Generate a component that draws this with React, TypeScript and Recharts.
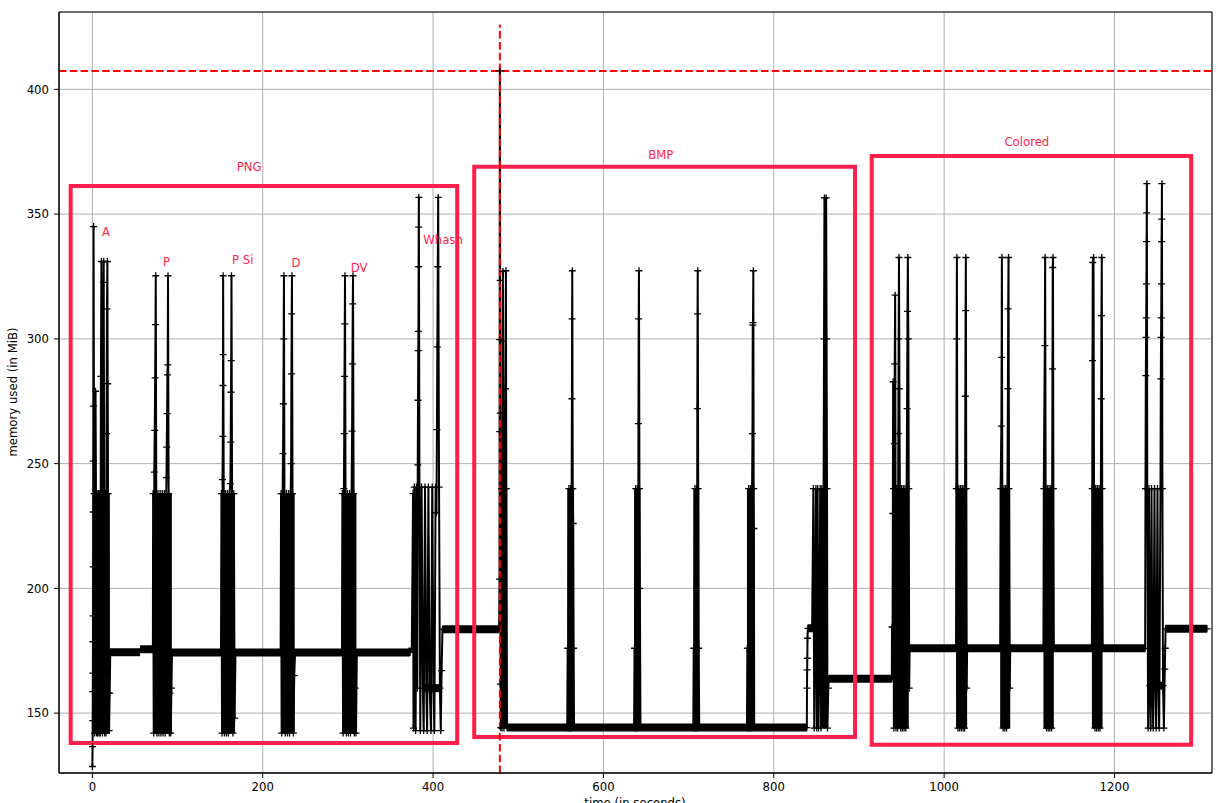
import React from 'react';
import {
  ComposedChart, Line, XAxis, YAxis, CartesianGrid, ReferenceArea, ReferenceLine, Scatter, Customized,
} from 'recharts';

// ---- data (time in s, memory in MiB) ----
const xTicks = [0, 200, 400, 600, 800, 1000, 1200];
const yTicks = [150, 200, 250, 300, 350, 400];
const xDomain = [-39.2, 1314.5];
const yDomain = [126, 431];

const pngTrace: [number, number][] = [
  [0, 128.6], [0.2, 136.6], [0.4, 147], [0.5, 158.6], [0.6, 166], [0.7, 178.6], [0.8, 189], [0.9, 208.6], [1.0, 230.6], [1.1, 251], [1.2, 273], [1.4, 345],
  [2, 238], [2.6, 142], [3.2, 238], [3.7, 279], [4.2, 238], [4.8, 142], [5.5, 238], [6.2, 142], [7, 238], [7.8, 142], [8.6, 238], [9.3, 142], [10, 285], [10.6, 331],
  [11.2, 238], [11.8, 142], [12.5, 238], [13, 322.6], [13.3, 331], [13.8, 238], [14.5, 142], [15.3, 238], [16, 142], [16.6, 262], [17.1, 312], [17.6, 331],
  [18.0, 282], [18.4, 238], [19, 158], [19.6, 143], [20.3, 158], [21, 174.5],
  [71, 175.6], [71.3, 238], [72, 142], [72.7, 246.6], [73.2, 263.3], [73.7, 284.4], [74.1, 305.7], [74.4, 325.3], [75, 238], [75.8, 142], [77, 238], [78, 142],
  [79.5, 238], [80.5, 142], [82, 238], [83, 142], [84.5, 238], [85.5, 142], [86.5, 233.3], [87, 244.4], [87.3, 256.6], [87.7, 270], [88.1, 285.6], [88.4, 289.6],
  [88.8, 325.3], [89.5, 238], [90.3, 142], [91, 158], [92, 142], [92.8, 160], [93.5, 174.3],
  [151, 174.3], [151.5, 238], [152.2, 142], [152.8, 243.6], [153.1, 260.9], [153.3, 281.3], [153.4, 293.7], [153.5, 325.3], [154.2, 238], [155, 142], [156.3, 238],
  [157.3, 142], [158.6, 238], [159.6, 142], [161, 238], [162, 242], [162.4, 258.6], [162.7, 278.6], [163, 291.3], [163.3, 325.3], [164, 238], [165, 142], [166, 238],
  [167, 148], [168, 174.3],
  [221, 174.3], [221.5, 238], [222.3, 142], [223.3, 238], [223.8, 254], [224.2, 274], [224.6, 300], [224.9, 325.3], [225.5, 238], [226.5, 142], [228, 238], [229, 142],
  [230.5, 238], [231.5, 142], [232.8, 238], [233.3, 250], [233.7, 286], [234, 310], [234.3, 325.3], [235, 238], [236, 142], [237, 165], [238, 174.3],
  [293, 174.3], [293.5, 238], [294.3, 142], [295.3, 240], [295.7, 262], [296, 285], [296.3, 306], [296.6, 325.3], [297.2, 238], [298.2, 142], [299.5, 238], [300.5, 142],
  [302, 238], [303, 142], [304.3, 238], [304.9, 263], [305.3, 290], [305.7, 314], [306, 325.3], [306.7, 238], [307.5, 142], [308.5, 160], [309.5, 142], [310.5, 174.3],
  [373, 174.4], [375, 176], [376.5, 238], [377, 144], [378, 240.6], [379.5, 143], [380.5, 240.6], [381.5, 160], [382, 249.5], [382.3, 275.4], [382.6, 295.3],
  [382.8, 303], [383, 328.9], [383.1, 344.8], [383.3, 356.7], [384, 240.6], [385, 143], [386.5, 240.6], [388, 160], [389, 143], [390.5, 240.6], [392, 160], [393, 143],
  [394.5, 240.6], [396, 160], [397.5, 143], [399, 240.6], [400.5, 160], [401.5, 143], [403, 240.6], [404, 230.3], [404.5, 263.6], [405, 296.8], [405.5, 328.9],
  [406, 356.7], [407, 240.6], [408, 160], [409, 143], [410, 167], [411, 183.6],
];

const bmpTrace: [number, number][] = [
  [477.5, 184], [478, 203.7], [478.1, 262.8], [478.2, 299.7], [478.4, 407.4], [478.7, 323.4], [478.9, 270.2], [479.2, 161.6], [479.5, 144.2],
  [480.5, 240], [481, 144], [481.6, 299], [482, 327], [482.5, 240], [483.2, 144], [484.2, 240], [484.8, 280], [485.5, 327.3], [486, 240], [486.8, 144.2],
  [557.5, 144.2], [558, 176], [558.5, 144], [559.5, 240], [560.5, 144], [561.5, 240], [562.2, 144], [562.7, 240], [563, 276], [563.2, 308], [563.4, 327.3],
  [564, 240], [564.5, 226], [565, 176], [565.5, 144.2],
  [636, 144.2], [636.5, 176], [637, 144], [638, 240], [639, 144], [640, 240], [640.7, 144], [641.1, 266], [641.4, 308], [641.7, 327.3], [642.3, 240], [642.8, 200],
  [643.5, 144.2],
  [705.5, 144.2], [706, 176], [706.5, 144], [707.5, 240], [708.5, 144], [709.3, 240], [709.8, 144], [710.2, 272], [710.5, 310], [710.7, 327.3], [711.3, 240],
  [711.8, 176], [712.5, 144.2],
  [768.5, 144.2], [769, 176], [769.5, 144], [770.5, 240], [771.5, 144], [772.5, 240], [773.5, 144], [774.5, 240], [775, 262], [775.3, 305.5], [775.6, 306.5],
  [776, 327.3], [776.4, 240], [776.7, 224], [777, 144.2],
  [838.8, 144.2], [839, 160], [839.2, 167.3], [839.4, 172], [839.6, 180], [840, 184], [845, 184], [846.5, 240], [847.5, 144], [848.5, 184], [849.5, 240],
  [850.5, 144], [851.5, 240], [852.5, 144], [853.5, 170], [854.5, 240], [855.5, 144], [856.5, 240], [857.5, 160], [858.5, 240], [859, 300], [859.5, 356.5],
  [860, 240], [860.5, 165], [861, 240], [861.5, 356.5], [862, 300], [862.5, 240], [863, 144], [864, 160], [864.5, 163.8],
];

const coloredTrace: [number, number][] = [
  [938.6, 163.8], [938.8, 184.5], [939.5, 184.5], [939.8, 230], [940.1, 282.8], [940.5, 240], [941, 144], [941.6, 258], [942, 290], [942.5, 317.5], [943, 240],
  [943.5, 144], [944.5, 240], [945.5, 144], [946.2, 262], [946.6, 300], [947, 332.6], [947.5, 280], [948, 240], [949, 144], [950, 240], [951, 144], [952, 240],
  [953, 144], [954, 240], [955, 144], [956, 240], [956.5, 272], [957, 311], [957.4, 332.6], [958, 300], [958.5, 240], [959, 160], [959.5, 176],
  [1014, 176], [1014.3, 240], [1014.7, 300], [1015, 332.6], [1015.5, 240], [1016.3, 144], [1017.3, 240], [1018.3, 144], [1019.3, 240], [1020.3, 144],
  [1021.3, 240], [1022.3, 144], [1023.3, 240], [1024, 144], [1024.6, 240], [1024.9, 277], [1025.2, 311.3], [1025.5, 332.6], [1026, 240], [1026.5, 160], [1027, 176],
  [1065.8, 176], [1066.3, 240], [1067.2, 265], [1067.5, 292.6], [1067.8, 332.6], [1068.3, 240], [1069.3, 144], [1070.3, 240], [1071.3, 144], [1072.3, 240],
  [1073.3, 144], [1074.3, 240], [1074.9, 280], [1075.2, 312], [1075.6, 332.6], [1076.2, 240], [1077, 160], [1077.6, 176],
  [1116.6, 176], [1117, 240], [1118.2, 297.3], [1118.6, 332.6], [1119.2, 240], [1120.2, 144], [1121.2, 240], [1122.2, 144], [1123.2, 240], [1124.2, 144],
  [1125.2, 240], [1126.2, 144], [1126.8, 240], [1127.2, 288], [1127.5, 328.6], [1127.8, 332.6], [1128.3, 240], [1128.8, 176],
  [1173.5, 176], [1173.9, 240], [1174.2, 291.3], [1174.5, 330.6], [1175.4, 332.6], [1176, 240], [1177, 144], [1178, 240], [1179, 144], [1180, 240], [1181, 144],
  [1182, 240], [1183, 144], [1184, 240], [1184.4, 276], [1184.7, 309.3], [1185.1, 332.6], [1185.6, 240], [1186.2, 176],
  [1236, 176], [1236.4, 240], [1236.8, 285.3], [1237.1, 300.6], [1237.3, 308.4], [1237.5, 322], [1237.7, 339], [1237.9, 350.5], [1238, 362.2], [1238.5, 240],
  [1239.5, 144], [1240.5, 240], [1241.5, 161], [1242.5, 144], [1243.5, 240], [1244.5, 161], [1245.5, 144], [1247, 240], [1248, 161], [1249, 144], [1250.5, 240],
  [1251.5, 161], [1252.5, 144], [1254, 240], [1254.4, 284], [1254.7, 300.6], [1254.9, 308.4], [1255.1, 322], [1255.3, 339], [1255.5, 348], [1255.7, 362.2],
  [1256.3, 240], [1257, 161], [1258, 144], [1259, 167.6], [1259.6, 176], [1260, 183.8], [1308.6, 183.8],
];

// dense sampling plateaus: [tStart, tEnd, MiB]
const plateaus: [number, number, number][] = [
  [21, 56, 174.4], [56, 71.5, 175.6], [93.3, 373, 174.3], [387, 410, 160], [411, 478, 183.6], [487, 839, 144.2], [840, 848.5, 184],
  [864.5, 938.6, 163.8], [959.5, 1236, 176], [1242, 1258, 161], [1260, 1308.6, 183.8],
];

// dense bursts of samples: [tStart, tEnd, lowMiB, highMiB]
const bursts: [number, number, number, number][] = [
  [0.3, 20.5, 142, 238], [71.5, 93.3, 142, 238], [151.2, 167.5, 142, 238], [221.3, 237.5, 142, 238], [293.3, 310, 142, 238],
  [479.5, 487, 144, 240], [557.5, 565.5, 144, 240], [636, 643.5, 144, 240], [705.5, 712.5, 144, 240], [768.5, 777, 144, 240], [856, 863.5, 144, 240],
  [940.5, 958.5, 144, 240], [1014, 1027, 144, 240], [1065.8, 1077.6, 144, 240], [1116.6, 1128.8, 144, 240], [1173.5, 1186, 144, 240],
];

// annotation boxes: [tStart, tEnd, lowMiB, highMiB]
const boxes: [number, number, number, number][] = [
  [-25.5, 428.3, 138, 361.3],
  [448.3, 895.4, 140.4, 369],
  [915, 1290, 137.3, 373.3],
];

// annotation texts: [t, MiB, text]
const notes: [number, number, string][] = [
  [169.5, 367.3, 'PNG'], [11.3, 341.3, 'A'], [82.9, 329.3, 'P'], [164, 330, 'P Si'], [233.8, 328.6, 'D'], [303.4, 326.9, 'DV'],
  [388.4, 338, 'Whash'], [652.6, 372, 'BMP'], [1070.8, 377.3, 'Colored'],
];

const peakTime = 478.4;
const peakMem = 407.4;
const peakLineTop = 426;

// ---- build tables ----
const traceData = [...pngTrace, ...bmpTrace, ...coloredTrace].map(([t, mem]) => ({ t, mem }));
const notesData = notes.map(([t, mem, text]) => ({ t, mem, text }));

const RED = '#ff1f4b';
const FONT = 'DejaVu Sans, sans-serif';

const PlusDot = (props: any) => {
  const { cx, cy, index } = props;
  if (cx == null || cy == null) return <g key={`d${index}`} />;
  return (
    <path
      key={`d${index}`}
      d={`M${cx - 3.5},${cy}H${cx + 3.5}M${cx},${cy - 3.5}V${cy + 3.5}`}
      stroke="#000"
      strokeWidth={1.3}
      fill="none"
    />
  );
};

const NoteText = (props: any) => {
  const { cx, cy, payload } = props;
  return (
    <text x={cx} y={cy} fill={RED} fontSize={11.7} fontFamily={FONT} textAnchor="start">
      {payload.text}
    </text>
  );
};

const AxisLabels = () => (
  <g>
    <text x={17} y={392} transform="rotate(-90 17 392)" textAnchor="middle" fontSize={11.7} fontFamily={FONT} fill="#000">
      memory used (in MiB)
    </text>
    <text x={635} y={807} textAnchor="middle" fontSize={11.7} fontFamily={FONT} fill="#000">
      time (in seconds)
    </text>
  </g>
);

export default function App() {
  return (
    <div style={{ position: 'absolute', left: 0, top: 0, width: 1218, height: 803, background: '#fff' }}>
      <ComposedChart width={1218} height={803} margin={{ top: 12, right: 6, bottom: 0, left: 0 }}>
        <CartesianGrid stroke="#b0b0b0" strokeWidth={1} />
        <XAxis
          type="number"
          dataKey="t"
          domain={xDomain}
          ticks={xTicks}
          allowDataOverflow
          height={30}
          tickSize={5}
          tickMargin={5}
          stroke="#000"
          tick={{ fill: '#000', fontSize: 11.7, fontFamily: FONT }}
        />
        <YAxis
          type="number"
          domain={yDomain}
          ticks={yTicks}
          allowDataOverflow
          width={59}
          tickSize={5}
          tickMargin={5}
          stroke="#000"
          tick={{ fill: '#000', fontSize: 11.7, fontFamily: FONT }}
        />
        {bursts.map(([a, b, lo, hi], i) => (
          <ReferenceArea key={`b${i}`} x1={a} x2={b} y1={lo} y2={hi} fill="#000" fillOpacity={1} stroke="none" zIndex={350} />
        ))}
        {plateaus.map(([a, b, m], i) => (
          <Line
            key={`p${i}`}
            data={[{ t: a, mem: m }, { t: b, mem: m }]}
            dataKey="mem"
            stroke="#000"
            strokeWidth={8}
            dot={false}
            activeDot={false}
            isAnimationActive={false}
            type="linear"
          />
        ))}
        <Line
          data={traceData}
          dataKey="mem"
          stroke="#000"
          strokeWidth={2}
          dot={PlusDot}
          activeDot={false}
          isAnimationActive={false}
          type="linear"
        />
        {boxes.map(([a, b, lo, hi], i) => (
          <ReferenceArea key={`x${i}`} x1={a} x2={b} y1={lo} y2={hi} fill="none" fillOpacity={0} stroke={RED} strokeWidth={4} ifOverflow="visible" zIndex={450} />
        ))}
        <ReferenceLine y={peakMem} stroke="red" strokeWidth={2} strokeDasharray="7.5 3.3" zIndex={460} />
        <ReferenceLine
          segment={[{ x: peakTime, y: yDomain[0] }, { x: peakTime, y: peakLineTop }]}
          stroke="red"
          strokeWidth={2}
          strokeDasharray="7.5 3.3"
          zIndex={460}
        />
        <ReferenceArea x1={xDomain[0]} x2={xDomain[1]} y1={yDomain[0]} y2={yDomain[1]} fill="none" fillOpacity={0} stroke="#000" strokeWidth={1} zIndex={470} />
        <Scatter data={notesData} dataKey="mem" shape={NoteText} isAnimationActive={false} />
        <Customized component={AxisLabels} />
      </ComposedChart>
    </div>
  );
}
